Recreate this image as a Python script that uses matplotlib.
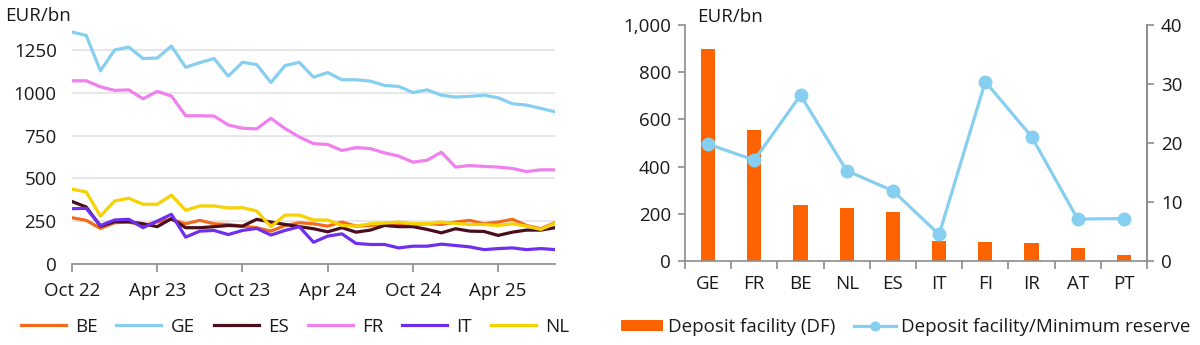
import matplotlib
matplotlib.use("Agg")
import matplotlib.pyplot as plt
import numpy as np

plt.rcParams['font.family'] = ['Open Sans', 'DejaVu Sans']

# ---------------- Left chart data (monthly, Oct 22 .. Aug 25) ----------------
months = ['Oct 22', 'Nov 22', 'Dec 22', 'Jan 23', 'Feb 23', 'Mar 23', 'Apr 23', 'May 23', 'Jun 23',
          'Jul 23', 'Aug 23', 'Sep 23', 'Oct 23', 'Nov 23', 'Dec 23', 'Jan 24', 'Feb 24', 'Mar 24',
          'Apr 24', 'May 24', 'Jun 24', 'Jul 24', 'Aug 24', 'Sep 24', 'Oct 24', 'Nov 24', 'Dec 24',
          'Jan 25', 'Feb 25', 'Mar 25', 'Apr 25', 'May 25', 'Jun 25', 'Jul 25', 'Aug 25']
tick_labels = ['Oct 22', 'Apr 23', 'Oct 23', 'Apr 24', 'Oct 24', 'Apr 25']

BE = [270, 255, 208, 241, 245, 225, 245, 261, 235, 255, 235, 231, 221, 212, 192, 225, 241,
      235, 221, 245, 221, 225, 231, 235, 231, 235, 231, 245, 255, 235, 245, 261, 225, 206, 241]
GE = [1355, 1335, 1128, 1250, 1267, 1200, 1203, 1273, 1149, 1176, 1200, 1097, 1178, 1165, 1060,
      1159, 1178, 1091, 1118, 1076, 1076, 1068, 1043, 1037, 1002, 1017, 986, 975, 979, 986, 971,
      936, 928, 909, 889]
ES = [365, 333, 221, 247, 247, 235, 218, 265, 212, 212, 218, 225, 221, 261, 245, 231, 218,
      206, 188, 212, 186, 198, 225, 218, 218, 202, 182, 206, 192, 190, 167, 186, 198, 198, 212]
FR = [1070, 1070, 1035, 1014, 1017, 965, 1008, 981, 866, 866, 864, 812, 793, 789, 851, 791, 742,
      703, 698, 663, 680, 674, 649, 630, 595, 606, 653, 566, 575, 570, 566, 558, 540, 550, 550]
IT = [323, 325, 225, 257, 261, 212, 251, 290, 157, 192, 196, 172, 196, 208, 169, 196, 218,
      127, 163, 176, 120, 114, 114, 94, 104, 104, 116, 108, 100, 84, 90, 94, 84, 90, 84]
NL = [437, 421, 280, 368, 384, 349, 349, 402, 314, 339, 339, 327, 329, 310, 218, 286, 286,
      257, 257, 225, 221, 235, 239, 245, 235, 235, 245, 237, 231, 231, 225, 235, 221, 202, 237]

series_names = ['BE', 'GE', 'ES', 'FR', 'IT', 'NL']
series_vals = [BE, GE, ES, FR, IT, NL]
series_cols = ['#F26B1D', '#86CFF0', '#4A0D1C', '#F080EE', '#6F2FEF', '#F5D200']

# ---------------- Right chart data ----------------
countries = ['GE', 'FR', 'BE', 'NL', 'ES', 'IT', 'FI', 'IR', 'AT', 'PT']
deposit_facility = [897, 555, 239, 223, 208, 86, 82, 75, 55, 24]
df_min_reserve = [19.8, 17.1, 28.1, 15.3, 11.9, 4.5, 30.4, 21.1, 7.1, 7.2]

W, H = 1200, 345
fig = plt.figure(figsize=(12, 3.45), dpi=100)

FS = 13.5
GRAY = '#8C8C8C'
TXT = '#1A1A1A'

# ---------------- Left axes ----------------
axL = fig.add_axes([72 / W, (H - 264) / H, (555 - 72) / W, 239.7 / H])
x = np.arange(len(months))
for name, vals, col in zip(series_names, series_vals, series_cols):
    axL.plot(x, vals, color=col, lw=2.3, label=name, solid_joinstyle='round')
axL.set_xlim(0, len(months) - 1)
axL.set_ylim(0, 1400)
axL.set_yticks([0, 250, 500, 750, 1000, 1250])
axL.set_yticklabels(['0', '250', '500', '750', '1000', '1250'])
axL.yaxis.grid(True, color='#E3E3E3', lw=1.2)
axL.set_axisbelow(True)
tick_idx = [months.index(t) for t in tick_labels]
axL.set_xticks(tick_idx)
axL.set_xticklabels(tick_labels)
for s in ['top', 'right', 'left']:
    axL.spines[s].set_visible(False)
axL.spines['bottom'].set_color(GRAY)
axL.spines['bottom'].set_linewidth(1.2)
axL.tick_params(axis='y', length=0, pad=11, labelsize=FS, labelcolor=TXT)
axL.tick_params(axis='x', length=6, width=1.2, color=GRAY, pad=7, labelsize=FS, labelcolor=TXT)
fig.text(5 / W, 1 - 16 / H, 'EUR/bn', fontsize=FS, color=TXT, ha='left', va='center')

hL, lL = axL.get_legend_handles_labels()
fig.legend(hL, lL, loc='center', bbox_to_anchor=(295 / W, 1 - 327 / H), ncol=6, frameon=False,
           fontsize=FS, handlelength=2.4, handletextpad=0.5, columnspacing=1.0,
           labelcolor=TXT, borderaxespad=0, borderpad=0)

# ---------------- Right axes ----------------
axR = fig.add_axes([685 / W, (H - 261) / H, (1147 - 685) / W, 236 / H])
xc = np.arange(len(countries))
bars = axR.bar(xc, deposit_facility, width=0.31, color='#FF6200', label='Deposit facility (DF)', zorder=2)
axR.set_xlim(-0.5, len(countries) - 0.5)
axR.set_ylim(0, 1000)
axR.set_yticks([0, 200, 400, 600, 800, 1000])
axR.set_yticklabels(['0', '200', '400', '600', '800', '1,000'])
axR.set_xticks(xc)
axR.set_xticklabels(countries)
axR.set_xticks(np.arange(-0.5, len(countries)), minor=True)
axR.tick_params(axis='x', which='major', length=0, pad=10, labelsize=FS, labelcolor=TXT)
axR.tick_params(axis='x', which='minor', length=6, width=1.2, color=GRAY)
axR.tick_params(axis='y', length=5, width=1.2, color=GRAY, pad=5, labelsize=FS, labelcolor=TXT)
axR.spines['top'].set_visible(False)
for s in ['left', 'right', 'bottom']:
    axR.spines[s].set_color(GRAY)
    axR.spines[s].set_linewidth(1.2)

ax2 = axR.twinx()
ln = ax2.plot(xc, df_min_reserve, color='#86CFF0', lw=2.3, marker='o', markersize=9,
              label='Deposit facility/Minimum reserve', zorder=3)
ax2.set_ylim(0, 40)
ax2.set_yticks([0, 10, 20, 30, 40])
ax2.tick_params(axis='y', length=5, width=1.2, color=GRAY, pad=5, labelsize=FS, labelcolor=TXT)
for s in ['top', 'left', 'bottom']:
    ax2.spines[s].set_visible(False)
ax2.spines['right'].set_color(GRAY)
ax2.spines['right'].set_linewidth(1.2)
fig.text(697 / W, 1 - 17 / H, 'EUR/bn', fontsize=FS, color=TXT, ha='left', va='center')

fig.legend([bars, ln[0]], ['Deposit facility (DF)', 'Deposit facility/Minimum reserve'],
           loc='center', bbox_to_anchor=(906 / W, 1 - 327 / H), ncol=2, frameon=False,
           fontsize=FS, handlelength=2.2, handleheight=0.5, handletextpad=0.3, columnspacing=1.0,
           labelcolor=TXT, borderaxespad=0, borderpad=0, markerscale=0.7)

fig.savefig('out.png', dpi=100)
